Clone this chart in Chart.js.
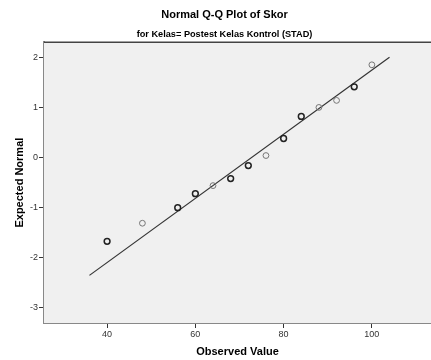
<!DOCTYPE html>
<html>
<head>
<meta charset="utf-8">
<script src="https://cdn.jsdelivr.net/npm/chart.js@4"></script>
<style>
  html, body { margin: 0; padding: 0; background: #fff; }
  #wrap { width: 431px; height: 360px; }
</style>
</head>
<body>
<div id="wrap"><canvas id="chart"></canvas></div>
<script>
// observed scores and their expected normal values
const observed = [40, 48, 56, 60, 64, 68, 72, 76, 80, 84, 88, 92, 96, 100];
const expected = [-1.67, -1.31, -1.0, -0.72, -0.56, -0.42, -0.16, 0.04, 0.38, 0.82, 1.0, 1.14, 1.41, 1.85];
// how many cases sit on each point (ties draw darker)
const freq = [2, 1, 2, 2, 1, 2, 2, 1, 2, 2, 1, 1, 2, 1];
// reference line ends
const lineX = [36, 104];
const lineY = [-2.35, 2.0];
const xTicks = [40, 60, 80, 100];
const yTicks = [-3, -2, -1, 0, 1, 2];

const FONT = "'Liberation Sans', Arial, sans-serif";

const pts = observed.map((x, i) => ({ x: x, y: expected[i] }));
const refLine = lineX.map((x, i) => ({ x: x, y: lineY[i] }));

// light gray plot background + dark top edge
const plotBg = {
  id: "plotBg",
  beforeDatasetsDraw(chart) {
    const a = chart.chartArea;
    const ctx = chart.ctx;
    ctx.save();
    ctx.fillStyle = "#f0f0f0";
    ctx.fillRect(a.left, a.top, a.right - a.left, a.bottom - a.top);
    ctx.strokeStyle = "#444";
    ctx.lineWidth = 1.5;
    ctx.beginPath();
    ctx.moveTo(a.left, a.top);
    ctx.lineTo(a.right, a.top);
    ctx.stroke();
    ctx.restore();
  },
};

new Chart(document.getElementById("chart").getContext("2d"), {
  type: "scatter",
  data: {
    datasets: [
      {
        type: "line",
        data: refLine,
        borderColor: "#333",
        borderWidth: 1.2,
        pointRadius: 0,
        fill: false,
        order: 2,
      },
      {
        data: pts,
        pointRadius: 2.9,
        pointBorderWidth: freq.map((f) => (f > 1 ? 1.5 : 1.0)),
        pointBorderColor: freq.map((f) => (f > 1 ? "#222" : "#777")),
        pointBackgroundColor: "rgba(0,0,0,0)",
        order: 1,
      },
    ],
  },
  plugins: [plotBg],
  options: {
    responsive: true,
    maintainAspectRatio: false,
    animation: false,
    layout: { autoPadding: false, padding: { left: 13, right: -5, top: 0, bottom: 0 } },
    plugins: {
      legend: { display: false },
      tooltip: { enabled: false },
      title: {
        display: true,
        text: "Normal Q-Q Plot of Skor",
        color: "#000",
        font: { family: FONT, size: 11, weight: "bold" },
        padding: { top: 8, bottom: 8 },
      },
      subtitle: {
        display: true,
        text: "for Kelas= Postest Kelas Kontrol (STAD)",
        color: "#000",
        font: { family: FONT, size: 9.2, weight: "bold" },
        padding: { top: 0, bottom: 2 },
      },
    },
    scales: {
      x: {
        type: "linear",
        min: 25.7,
        max: 113.4,
        afterBuildTicks: (s) => { s.ticks = xTicks.map((v) => ({ value: v })); },
        afterFit: (s) => { s.height = 37; },
        border: { color: "#888", width: 2 },
        grid: { drawOnChartArea: false, drawTicks: true, tickLength: 5, color: "#333" },
        ticks: { color: "#333", font: { family: FONT, size: 9 }, padding: 1 },
        title: {
          display: true,
          text: "Observed Value",
          color: "#000",
          font: { family: FONT, size: 11, weight: "bold" },
          padding: { top: 2, bottom: 1 },
        },
      },
      y: {
        type: "linear",
        min: -3.3,
        max: 2.3,
        afterBuildTicks: (s) => { s.ticks = yTicks.map((v) => ({ value: v })); },
        afterFit: (s) => { s.width = 31; },
        border: { color: "#888", width: 2 },
        grid: { drawOnChartArea: false, drawTicks: true, tickLength: 5, color: "#333" },
        ticks: { color: "#333", font: { family: FONT, size: 9 }, padding: 1 },
        title: {
          display: true,
          text: "Expected Normal",
          color: "#000",
          font: { family: FONT, size: 11, weight: "bold" },
          padding: { top: 0, bottom: 4 },
        },
      },
    },
  },
});
</script>
</body>
</html>
